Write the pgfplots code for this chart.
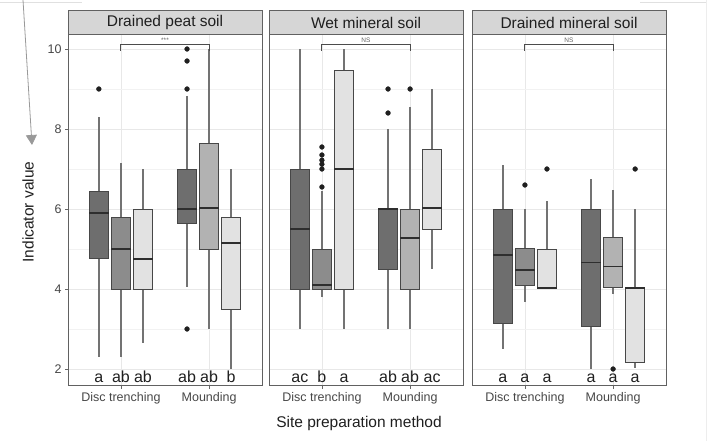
\documentclass[border=0pt]{standalone}
\usepackage{fontspec}
\setmainfont{Liberation Sans}
\usepackage{pgfplots}
\pgfplotsset{compat=1.18}
\usepgfplotslibrary{statistics}
\usetikzlibrary{arrows.meta}
\definecolor{cdark}{HTML}{6E6E6E}
\definecolor{cmed}{HTML}{8C8C8C}
\definecolor{cmlight}{HTML}{B2B2B2}
\definecolor{clight}{HTML}{E2E2E2}
\definecolor{cstrip}{HTML}{D6D6D6}
\pgfplotsset{
  facet/.style={
    width=194pt, height=351pt, scale only axis,
    xmin=0.4, xmax=2.6, ymin=1.575, ymax=10.35,
    xtick={1,2}, xticklabels={Disc trenching, Mounding},
    ytick={2,4,6,8,10}, minor ytick={3,5,7,9},
    grid=both,
    major grid style={draw=black!9, line width=0.8pt},
    minor grid style={draw=black!5, line width=0.5pt},
    axis line style={draw=black!62, line width=1pt},
    tick align=outside, tick pos=left,
    major tick length=3pt, minor tick length=0pt,
    tick style={draw=black!60, line width=0.7pt},
    ticklabel style={font=\fontsize{12.5}{14}\selectfont, text=black!72},
    /pgf/number format/assume math mode=true,
    title style={at={(0.5,1)}, anchor=south, yshift=-6pt, fill=cstrip, draw=black!62,
      line width=1pt, minimum width=194pt, minimum height=24pt, inner sep=0pt,
      font=\fontsize{15.5}{17}\selectfont, text=black!88},
    boxplot/draw direction=y,
    boxplot/box extend=0.22,
    boxplot/whisker extend=0,
    boxplot/every box/.style={draw=black!72, line width=0.9pt},
    boxplot/every whisker/.style={draw=black!55, line width=1.4pt},
    boxplot/every median/.style={draw=black!82, line width=1.7pt},
    clip=false,
  },
  bx/.style={mark=*, mark size=2.4pt, mark options={fill=black!88, draw=black!88, line width=0.4pt}, fill=#1, line width=1pt},
}
\tikzset{
  lt/.style={font=\fontsize{16}{18}\selectfont, text=black!88, anchor=base},
  sig/.style={font=\fontsize{6.5}{7}\selectfont, text=black!60, anchor=south, inner sep=1pt},
}
\newcommand{\bracket}[1]{%
  \draw[black!70, line width=0.9pt] (axis cs:1,9.95) -- (axis cs:1,10.12) -- (axis cs:2,10.12) -- (axis cs:2,9.95);
  \node[sig] at (axis cs:1.5,10.12) {#1};}
\begin{document}
\begin{tikzpicture}
\useasboundingbox (0,0) rectangle (708pt,441pt);
% screenshot artefacts
\draw[black!12, line width=0.8pt] (0pt,439pt) -- (82pt,439pt);
\draw[black!12, line width=0.8pt] (640pt,439pt) -- (706pt,439pt);
\draw[black!7, line width=0.8pt] (706pt,441pt) -- (706pt,0pt);
\draw[black!40, line width=0.8pt, -{Triangle[width=11pt,length=10pt]}] (23pt,441pt) -- (32pt,296pt);

% Panel 1
\begin{axis}[facet, at={(68pt,55pt)}, anchor=south west, title={Drained peat soil}]
\addplot[bx=cdark, boxplot prepared={draw position=0.75, lower whisker=2.3, lower quartile=4.77, median=5.9, upper quartile=6.43, upper whisker=8.3}] coordinates {(0,9)};
\addplot[bx=cmed, boxplot prepared={draw position=1, lower whisker=2.3, lower quartile=4.0, median=5.0, upper quartile=5.8, upper whisker=7.15}] coordinates {};
\addplot[bx=clight, boxplot prepared={draw position=1.25, lower whisker=2.65, lower quartile=4.0, median=4.75, upper quartile=6.0, upper whisker=7.0}] coordinates {};
\addplot[bx=cdark, boxplot prepared={draw position=1.75, lower whisker=4.05, lower quartile=5.65, median=6.0, upper quartile=7.0, upper whisker=8.83}] coordinates {(0,10) (0,9.7) (0,9) (0,3)};
\addplot[bx=cmlight, boxplot prepared={draw position=2, lower whisker=3.0, lower quartile=5.0, median=6.02, upper quartile=7.65, upper whisker=10}] coordinates {};
\addplot[bx=clight, boxplot prepared={draw position=2.25, lower whisker=2.0, lower quartile=3.5, median=5.15, upper quartile=5.8, upper whisker=7.0}] coordinates {};
\node[lt] at (axis cs:0.75,1.67) {a};
\node[lt] at (axis cs:1,1.67) {ab};
\node[lt] at (axis cs:1.25,1.67) {ab};
\node[lt] at (axis cs:1.75,1.67) {ab};
\node[lt] at (axis cs:2,1.67) {ab};
\node[lt] at (axis cs:2.25,1.67) {b};
\bracket{***}
\end{axis}

% Panel 2
\begin{axis}[facet, at={(269pt,55pt)}, anchor=south west, title={Wet mineral soil},
  yticklabels={}, ytick style={draw=none}]
\addplot[bx=cdark, boxplot prepared={draw position=0.75, lower whisker=3.0, lower quartile=4.0, median=5.5, upper quartile=7.0, upper whisker=10}] coordinates {};
\addplot[bx=cmed, boxplot prepared={draw position=1, lower whisker=3.8, lower quartile=4.0, median=4.1, upper quartile=5.0, upper whisker=6.45}] coordinates {(0,6.55) (0,7.0) (0,7.12) (0,7.22) (0,7.35) (0,7.55)};
\addplot[bx=clight, boxplot prepared={draw position=1.25, lower whisker=3.0, lower quartile=4.0, median=7.0, upper quartile=9.47, upper whisker=10}] coordinates {};
\addplot[bx=cdark, boxplot prepared={draw position=1.75, lower whisker=3.0, lower quartile=4.5, median=6.0, upper quartile=6.0, upper whisker=8.0}] coordinates {(0,8.4) (0,9.0)};
\addplot[bx=cmlight, boxplot prepared={draw position=2, lower whisker=3.0, lower quartile=4.0, median=5.28, upper quartile=6.0, upper whisker=8.55}] coordinates {(0,9.0)};
\addplot[bx=clight, boxplot prepared={draw position=2.25, lower whisker=4.5, lower quartile=5.5, median=6.03, upper quartile=7.5, upper whisker=9.0}] coordinates {};
\node[lt] at (axis cs:0.75,1.67) {ac};
\node[lt] at (axis cs:1,1.67) {b};
\node[lt] at (axis cs:1.25,1.67) {a};
\node[lt] at (axis cs:1.75,1.67) {ab};
\node[lt] at (axis cs:2,1.67) {ab};
\node[lt] at (axis cs:2.25,1.67) {ac};
\bracket{NS}
\end{axis}

% Panel 3
\begin{axis}[facet, at={(472pt,55pt)}, anchor=south west, title={Drained mineral soil},
  yticklabels={}, ytick style={draw=none}]
\addplot[bx=cdark, boxplot prepared={draw position=0.75, lower whisker=2.5, lower quartile=3.13, median=4.85, upper quartile=6.0, upper whisker=7.1}] coordinates {};
\addplot[bx=cmed, boxplot prepared={draw position=1, lower whisker=3.68, lower quartile=4.1, median=4.48, upper quartile=5.02, upper whisker=6.0}] coordinates {(0,6.6)};
\addplot[bx=clight, boxplot prepared={draw position=1.25, lower whisker=4.0, lower quartile=4.02, median=4.02, upper quartile=5.0, upper whisker=6.2}] coordinates {(0,7.0)};
\addplot[bx=cdark, boxplot prepared={draw position=1.75, lower whisker=2.0, lower quartile=3.06, median=4.66, upper quartile=6.0, upper whisker=6.74}] coordinates {};
\addplot[bx=cmlight, boxplot prepared={draw position=2, lower whisker=3.87, lower quartile=4.03, median=4.56, upper quartile=5.29, upper whisker=6.48}] coordinates {(0,2.0)};
\addplot[bx=clight, boxplot prepared={draw position=2.25, lower whisker=2.02, lower quartile=2.17, median=4.02, upper quartile=4.02, upper whisker=6.0}] coordinates {(0,7.0)};
\node[lt] at (axis cs:0.75,1.67) {a};
\node[lt] at (axis cs:1,1.67) {a};
\node[lt] at (axis cs:1.25,1.67) {a};
\node[lt] at (axis cs:1.75,1.67) {a};
\node[lt] at (axis cs:2,1.67) {a};
\node[lt] at (axis cs:2.25,1.67) {a};
\bracket{NS}
\end{axis}

\node[font=\fontsize{15.5}{17}\selectfont, text=black!88, rotate=90] at (28pt,229pt) {Indicator value};
\node[font=\fontsize{15.5}{17}\selectfont, text=black!88] at (359pt,18pt) {Site preparation method};
\end{tikzpicture}
\end{document}
